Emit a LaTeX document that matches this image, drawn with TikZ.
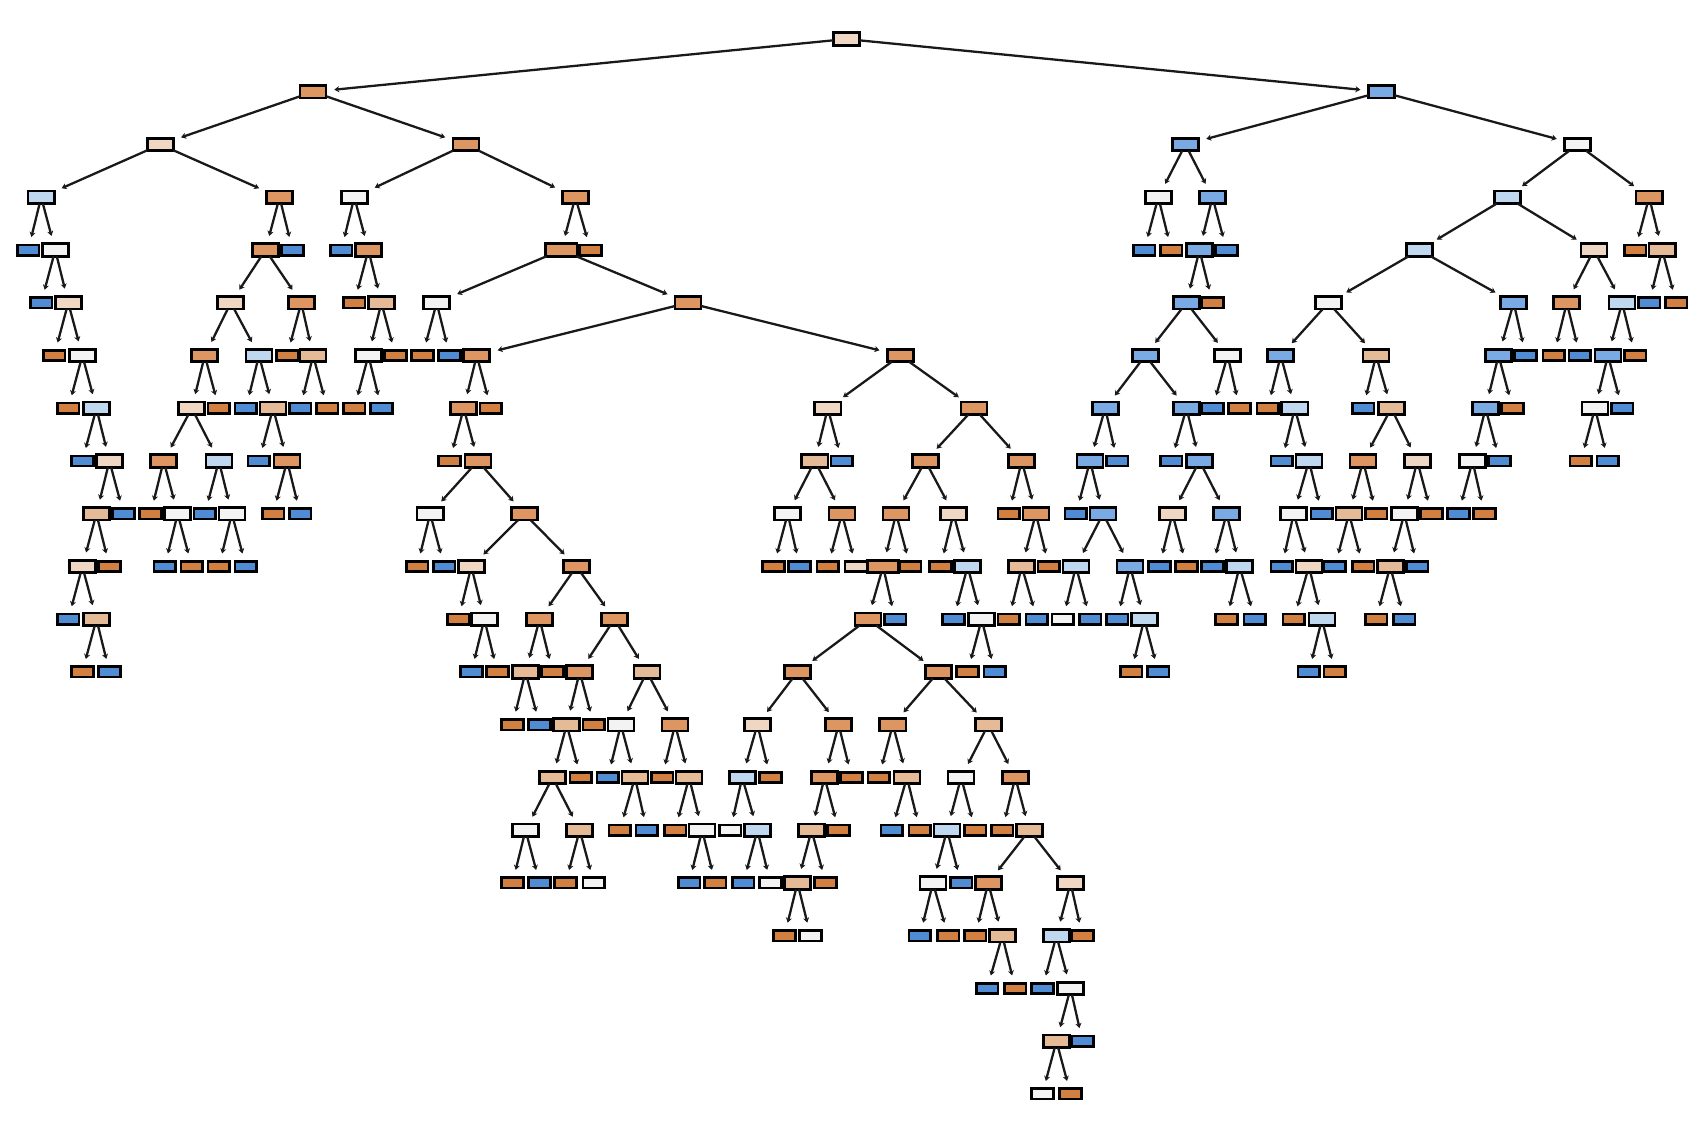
\documentclass[tikz,border=0pt]{standalone}
\usepackage{tikz}
\usetikzlibrary{arrows.meta}
\definecolor{orS}{RGB}{210,128,66}
\definecolor{orM}{RGB}{221,150,98}
\definecolor{orT}{RGB}{229,186,150}
\definecolor{orP}{RGB}{239,215,196}
\definecolor{grW}{RGB}{243,243,243}
\definecolor{blP}{RGB}{192,215,240}
\definecolor{blM}{RGB}{122,170,228}
\definecolor{blS}{RGB}{80,140,212}

\begin{document}
\begin{tikzpicture}[x=0.01cm,y=-0.4865cm,
  nd/.style={draw=black,line width=0.7pt,inner sep=0pt,outer sep=0pt,minimum width=0.24cm,minimum height=0.115cm},
  lf/.style={nd,minimum width=0.2cm,minimum height=0.095cm},
  wd/.style={minimum width=0.29cm},
  oS/.style={fill=orS},
  oM/.style={fill=orM},
  oT/.style={fill=orT},
  oP/.style={fill=orP},
  wh/.style={fill=grW},
  bP/.style={fill=blP},
  bM/.style={fill=blM},
  bS/.style={fill=blS},
  link/.style={line width=0.6pt,black!90,shorten >=0.075cm,-{Stealth[length=1.3pt,width=1.6pt]}}]
\useasboundingbox (0,-0.74) rectangle (1568,20.555);
% tree nodes, preorder
\node[nd,oP] (n0) at (781,0) {};
\node[nd,oM] (n1) at (289,1) {};
\node[nd,oP] (n2) at (148,2) {};
\node[nd,bP] (n3) at (38,3) {};
\node[lf,bS] (n4) at (26,4) {};
\node[nd,wh] (n5) at (51,4) {};
\node[lf,bS] (n6) at (38,5) {};
\node[nd,oP] (n7) at (63,5) {};
\node[lf,oS] (n8) at (50,6) {};
\node[nd,wh] (n9) at (76,6) {};
\node[lf,oS] (n10) at (63,7) {};
\node[nd,bP] (n11) at (89,7) {};
\node[lf,bS] (n12) at (76,8) {};
\node[nd,oP] (n13) at (101,8) {};
\node[nd,oT] (n14) at (89,9) {};
\node[nd,oP] (n15) at (76,10) {};
\node[lf,bS] (n16) at (63,11) {};
\node[nd,oT] (n17) at (89,11) {};
\node[lf,oS] (n18) at (76,12) {};
\node[lf,bS] (n19) at (101,12) {};
\node[lf,oS] (n20) at (101,10) {};
\node[lf,bS] (n21) at (114,9) {};
\node[nd,oM] (n22) at (258,3) {};
\node[nd,oM] (n23) at (245,4) {};
\node[nd,oP] (n24) at (213,5) {};
\node[nd,oM] (n25) at (189,6) {};
\node[nd,oP] (n26) at (177,7) {};
\node[nd,oM] (n27) at (151,8) {};
\node[lf,oS] (n28) at (139,9) {};
\node[nd,wh] (n29) at (164,9) {};
\node[lf,bS] (n30) at (152,10) {};
\node[lf,oS] (n31) at (177,10) {};
\node[nd,bP] (n32) at (202,8) {};
\node[lf,bS] (n33) at (189,9) {};
\node[nd,wh] (n34) at (214,9) {};
\node[lf,oS] (n35) at (202,10) {};
\node[lf,bS] (n36) at (227,10) {};
\node[lf,oS] (n37) at (202,7) {};
\node[nd,bP] (n38) at (239,6) {};
\node[lf,bS] (n39) at (227,7) {};
\node[nd,oT] (n40) at (252,7) {};
\node[lf,bS] (n41) at (239,8) {};
\node[nd,oM] (n42) at (265,8) {};
\node[lf,oS] (n43) at (252,9) {};
\node[lf,bS] (n44) at (277,9) {};
\node[nd,oM] (n45) at (278,5) {};
\node[lf,oS] (n46) at (265,6) {};
\node[nd,oT] (n47) at (289,6) {};
\node[lf,bS] (n48) at (277,7) {};
\node[lf,oS] (n49) at (302,7) {};
\node[lf,bS] (n50) at (270,4) {};
\node[nd,oM] (n51) at (430,2) {};
\node[nd,wh] (n52) at (327,3) {};
\node[lf,bS] (n53) at (315,4) {};
\node[nd,oM] (n54) at (340,4) {};
\node[lf,oS] (n55) at (327,5) {};
\node[nd,oT] (n56) at (352,5) {};
\node[nd,wh] (n57) at (340,6) {};
\node[lf,oS] (n58) at (327,7) {};
\node[lf,bS] (n59) at (352,7) {};
\node[lf,oS] (n60) at (365,6) {};
\node[nd,oM] (n61) at (531,3) {};
\node[nd,wd,oM] (n62) at (518,4) {};
\node[nd,wh] (n63) at (403,5) {};
\node[lf,oS] (n64) at (390,6) {};
\node[lf,bS] (n65) at (415,6) {};
\node[nd,oM] (n66) at (635,5) {};
\node[nd,oM] (n67) at (440,6) {};
\node[nd,oM] (n68) at (428,7) {};
\node[lf,oS] (n69) at (415,8) {};
\node[nd,oM] (n70) at (441,8) {};
\node[nd,wh] (n71) at (397,9) {};
\node[lf,oS] (n72) at (385,10) {};
\node[lf,bS] (n73) at (410,10) {};
\node[nd,oM] (n74) at (484,9) {};
\node[nd,oP] (n75) at (435,10) {};
\node[lf,oS] (n76) at (423,11) {};
\node[nd,wh] (n77) at (447,11) {};
\node[lf,bS] (n78) at (435,12) {};
\node[lf,oS] (n79) at (459,12) {};
\node[nd,oM] (n80) at (532,10) {};
\node[nd,oM] (n81) at (498,11) {};
\node[nd,oT] (n82) at (485,12) {};
\node[lf,oS] (n83) at (473,13) {};
\node[lf,bS] (n84) at (498,13) {};
\node[lf,oS] (n85) at (510,12) {};
\node[nd,oM] (n86) at (567,11) {};
\node[nd,oM] (n87) at (535,12) {};
\node[nd,oT] (n88) at (523,13) {};
\node[nd,oT] (n89) at (510,14) {};
\node[nd,wh] (n90) at (485,15) {};
\node[lf,oS] (n91) at (473,16) {};
\node[lf,bS] (n92) at (498,16) {};
\node[nd,oT] (n93) at (535,15) {};
\node[lf,oS] (n94) at (522,16) {};
\node[lf,wh] (n95) at (548,16) {};
\node[lf,oS] (n96) at (536,14) {};
\node[lf,oS] (n97) at (548,13) {};
\node[nd,oT] (n98) at (597,12) {};
\node[nd,wh] (n99) at (573,13) {};
\node[lf,bS] (n100) at (561,14) {};
\node[nd,oT] (n101) at (586,14) {};
\node[lf,oS] (n102) at (572,15) {};
\node[lf,bS] (n103) at (597,15) {};
\node[nd,oM] (n104) at (623,13) {};
\node[lf,oS] (n105) at (611,14) {};
\node[nd,oT] (n106) at (636,14) {};
\node[lf,oS] (n107) at (623,15) {};
\node[nd,wh] (n108) at (648,15) {};
\node[lf,bS] (n109) at (636,16) {};
\node[lf,oS] (n110) at (660,16) {};
\node[lf,oS] (n111) at (453,7) {};
\node[nd,oM] (n112) at (831,6) {};
\node[nd,oP] (n113) at (764,7) {};
\node[nd,oT] (n114) at (752,8) {};
\node[nd,wh] (n115) at (727,9) {};
\node[lf,oS] (n116) at (714,10) {};
\node[lf,bS] (n117) at (738,10) {};
\node[nd,oM] (n118) at (777,9) {};
\node[lf,oS] (n119) at (764,10) {};
\node[lf,oP] (n120) at (790,10) {};
\node[lf,bS] (n121) at (777,8) {};
\node[nd,oM] (n122) at (899,7) {};
\node[nd,oM] (n123) at (854,8) {};
\node[nd,oM] (n124) at (827,9) {};
\node[nd,wd,oM] (n125) at (815,10) {};
\node[nd,oM] (n126) at (801,11) {};
\node[nd,oM] (n127) at (736,12) {};
\node[nd,oP] (n128) at (699,13) {};
\node[nd,bP] (n129) at (685,14) {};
\node[lf,wh] (n130) at (674,15) {};
\node[nd,bP] (n131) at (699,15) {};
\node[lf,bS] (n132) at (686,16) {};
\node[lf,wh] (n133) at (711,16) {};
\node[lf,oS] (n134) at (711,14) {};
\node[nd,oM] (n135) at (774,13) {};
\node[nd,oM] (n136) at (761,14) {};
\node[nd,oT] (n137) at (749,15) {};
\node[nd,oT] (n138) at (736,16) {};
\node[lf,oS] (n139) at (724,17) {};
\node[lf,wh] (n140) at (748,17) {};
\node[lf,oS] (n141) at (762,16) {};
\node[lf,oS] (n142) at (774,15) {};
\node[lf,oS] (n143) at (786,14) {};
\node[nd,oM] (n144) at (866,12) {};
\node[nd,oM] (n145) at (824,13) {};
\node[lf,oS] (n146) at (811,14) {};
\node[nd,oT] (n147) at (837,14) {};
\node[lf,bS] (n148) at (823,15) {};
\node[lf,oS] (n149) at (849,15) {};
\node[nd,oT] (n150) at (912,13) {};
\node[nd,wh] (n151) at (887,14) {};
\node[nd,bP] (n152) at (874,15) {};
\node[nd,wh] (n153) at (861,16) {};
\node[lf,bS] (n154) at (849,17) {};
\node[lf,oS] (n155) at (875,17) {};
\node[lf,bS] (n156) at (887,16) {};
\node[lf,oS] (n157) at (900,15) {};
\node[nd,oM] (n158) at (937,14) {};
\node[lf,oS] (n159) at (925,15) {};
\node[nd,oT] (n160) at (950,15) {};
\node[nd,oM] (n161) at (912,16) {};
\node[lf,oS] (n162) at (900,17) {};
\node[nd,oT] (n163) at (925,17) {};
\node[lf,bS] (n164) at (911,18) {};
\node[lf,oS] (n165) at (937,18) {};
\node[nd,oP] (n166) at (988,16) {};
\node[nd,bP] (n167) at (975,17) {};
\node[lf,bS] (n168) at (962,18) {};
\node[nd,wh] (n169) at (988,18) {};
\node[nd,oT] (n170) at (975,19) {};
\node[lf,wh] (n171) at (962,20) {};
\node[lf,oS] (n172) at (988,20) {};
\node[lf,bS] (n173) at (999,19) {};
\node[lf,oS] (n174) at (999,17) {};
\node[lf,bS] (n175) at (826,11) {};
\node[lf,oS] (n176) at (840,10) {};
\node[nd,oP] (n177) at (880,9) {};
\node[lf,oS] (n178) at (868,10) {};
\node[nd,bP] (n179) at (893,10) {};
\node[lf,bS] (n180) at (880,11) {};
\node[nd,wh] (n181) at (906,11) {};
\node[lf,oS] (n182) at (893,12) {};
\node[lf,bS] (n183) at (918,12) {};
\node[nd,oM] (n184) at (943,8) {};
\node[lf,oS] (n185) at (931,9) {};
\node[nd,oM] (n186) at (956,9) {};
\node[nd,oT] (n187) at (943,10) {};
\node[lf,oS] (n188) at (931,11) {};
\node[lf,bS] (n189) at (957,11) {};
\node[lf,oS] (n190) at (968,10) {};
\node[lf,oS] (n191) at (545,4) {};
\node[nd,bM] (n192) at (1275,1) {};
\node[nd,bM] (n193) at (1094,2) {};
\node[nd,wh] (n194) at (1069,3) {};
\node[lf,bS] (n195) at (1056,4) {};
\node[lf,oS] (n196) at (1081,4) {};
\node[nd,bM] (n197) at (1119,3) {};
\node[nd,bM] (n198) at (1107,4) {};
\node[nd,bM] (n199) at (1095,5) {};
\node[nd,bM] (n200) at (1057,6) {};
\node[nd,bM] (n201) at (1020,7) {};
\node[nd,bM] (n202) at (1006,8) {};
\node[lf,bS] (n203) at (993,9) {};
\node[nd,bM] (n204) at (1018,9) {};
\node[nd,bP] (n205) at (993,10) {};
\node[lf,wh] (n206) at (981,11) {};
\node[lf,bS] (n207) at (1006,11) {};
\node[nd,bM] (n208) at (1043,10) {};
\node[lf,bS] (n209) at (1031,11) {};
\node[nd,bP] (n210) at (1056,11) {};
\node[lf,oS] (n211) at (1044,12) {};
\node[lf,bS] (n212) at (1069,12) {};
\node[lf,bS] (n213) at (1031,8) {};
\node[nd,bM] (n214) at (1095,7) {};
\node[lf,bS] (n215) at (1081,8) {};
\node[nd,bM] (n216) at (1107,8) {};
\node[nd,oP] (n217) at (1082,9) {};
\node[lf,bS] (n218) at (1070,10) {};
\node[lf,oS] (n219) at (1095,10) {};
\node[nd,bM] (n220) at (1132,9) {};
\node[lf,bS] (n221) at (1119,10) {};
\node[nd,bP] (n222) at (1144,10) {};
\node[lf,oS] (n223) at (1132,11) {};
\node[lf,bS] (n224) at (1158,11) {};
\node[nd,wh] (n225) at (1133,6) {};
\node[lf,bS] (n226) at (1119,7) {};
\node[lf,oS] (n227) at (1144,7) {};
\node[lf,oS] (n228) at (1119,5) {};
\node[lf,bS] (n229) at (1132,4) {};
\node[nd,wh] (n230) at (1456,2) {};
\node[nd,bP] (n231) at (1391,3) {};
\node[nd,bP] (n232) at (1310,4) {};
\node[nd,wh] (n233) at (1226,5) {};
\node[nd,bM] (n234) at (1182,6) {};
\node[lf,oS] (n235) at (1170,7) {};
\node[nd,bP] (n236) at (1195,7) {};
\node[lf,bS] (n237) at (1183,8) {};
\node[nd,bP] (n238) at (1208,8) {};
\node[nd,wh] (n239) at (1194,9) {};
\node[lf,bS] (n240) at (1183,10) {};
\node[nd,oP] (n241) at (1208,10) {};
\node[lf,oS] (n242) at (1194,11) {};
\node[nd,bP] (n243) at (1220,11) {};
\node[lf,bS] (n244) at (1208,12) {};
\node[lf,oS] (n245) at (1232,12) {};
\node[lf,bS] (n246) at (1220,9) {};
\node[nd,oT] (n247) at (1270,6) {};
\node[lf,bS] (n248) at (1258,7) {};
\node[nd,oT] (n249) at (1284,7) {};
\node[nd,oM] (n250) at (1258,8) {};
\node[nd,oT] (n251) at (1245,9) {};
\node[lf,bS] (n252) at (1232,10) {};
\node[lf,oS] (n253) at (1258,10) {};
\node[lf,oS] (n254) at (1270,9) {};
\node[nd,oP] (n255) at (1308,8) {};
\node[nd,wh] (n256) at (1296,9) {};
\node[nd,oT] (n257) at (1283,10) {};
\node[lf,oS] (n258) at (1270,11) {};
\node[lf,bS] (n259) at (1296,11) {};
\node[lf,bS] (n260) at (1308,10) {};
\node[lf,oS] (n261) at (1321,9) {};
\node[nd,bM] (n262) at (1397,5) {};
\node[nd,bM] (n263) at (1383,6) {};
\node[nd,bM] (n264) at (1371,7) {};
\node[nd,wh] (n265) at (1359,8) {};
\node[lf,bS] (n266) at (1346,9) {};
\node[lf,oS] (n267) at (1370,9) {};
\node[lf,bS] (n268) at (1384,8) {};
\node[lf,oS] (n269) at (1396,7) {};
\node[lf,bS] (n270) at (1408,6) {};
\node[nd,oP] (n271) at (1471,4) {};
\node[nd,oM] (n272) at (1446,5) {};
\node[lf,oS] (n273) at (1434,6) {};
\node[lf,bS] (n274) at (1458,6) {};
\node[nd,bP] (n275) at (1497,5) {};
\node[nd,bM] (n276) at (1484,6) {};
\node[nd,wh] (n277) at (1472,7) {};
\node[lf,oS] (n278) at (1459,8) {};
\node[lf,bS] (n279) at (1484,8) {};
\node[lf,bS] (n280) at (1497,7) {};
\node[lf,oS] (n281) at (1509,6) {};
\node[nd,oM] (n282) at (1522,3) {};
\node[lf,oS] (n283) at (1509,4) {};
\node[nd,oT] (n284) at (1534,4) {};
\node[lf,bS] (n285) at (1522,5) {};
\node[lf,oS] (n286) at (1547,5) {};
% links, parent to both children
\draw[link] (n0) edge (n1) edge (n192);
\draw[link] (n1) edge (n2) edge (n51);
\draw[link] (n2) edge (n3) edge (n22);
\draw[link] (n3) edge (n4) edge (n5);
\draw[link] (n5) edge (n6) edge (n7);
\draw[link] (n7) edge (n8) edge (n9);
\draw[link] (n9) edge (n10) edge (n11);
\draw[link] (n11) edge (n12) edge (n13);
\draw[link] (n13) edge (n14) edge (n21);
\draw[link] (n14) edge (n15) edge (n20);
\draw[link] (n15) edge (n16) edge (n17);
\draw[link] (n17) edge (n18) edge (n19);
\draw[link] (n22) edge (n23) edge (n50);
\draw[link] (n23) edge (n24) edge (n45);
\draw[link] (n24) edge (n25) edge (n38);
\draw[link] (n25) edge (n26) edge (n37);
\draw[link] (n26) edge (n27) edge (n32);
\draw[link] (n27) edge (n28) edge (n29);
\draw[link] (n29) edge (n30) edge (n31);
\draw[link] (n32) edge (n33) edge (n34);
\draw[link] (n34) edge (n35) edge (n36);
\draw[link] (n38) edge (n39) edge (n40);
\draw[link] (n40) edge (n41) edge (n42);
\draw[link] (n42) edge (n43) edge (n44);
\draw[link] (n45) edge (n46) edge (n47);
\draw[link] (n47) edge (n48) edge (n49);
\draw[link] (n51) edge (n52) edge (n61);
\draw[link] (n52) edge (n53) edge (n54);
\draw[link] (n54) edge (n55) edge (n56);
\draw[link] (n56) edge (n57) edge (n60);
\draw[link] (n57) edge (n58) edge (n59);
\draw[link] (n61) edge (n62) edge (n191);
\draw[link] (n62) edge (n63) edge (n66);
\draw[link] (n63) edge (n64) edge (n65);
\draw[link] (n66) edge (n67) edge (n112);
\draw[link] (n67) edge (n68) edge (n111);
\draw[link] (n68) edge (n69) edge (n70);
\draw[link] (n70) edge (n71) edge (n74);
\draw[link] (n71) edge (n72) edge (n73);
\draw[link] (n74) edge (n75) edge (n80);
\draw[link] (n75) edge (n76) edge (n77);
\draw[link] (n77) edge (n78) edge (n79);
\draw[link] (n80) edge (n81) edge (n86);
\draw[link] (n81) edge (n82) edge (n85);
\draw[link] (n82) edge (n83) edge (n84);
\draw[link] (n86) edge (n87) edge (n98);
\draw[link] (n87) edge (n88) edge (n97);
\draw[link] (n88) edge (n89) edge (n96);
\draw[link] (n89) edge (n90) edge (n93);
\draw[link] (n90) edge (n91) edge (n92);
\draw[link] (n93) edge (n94) edge (n95);
\draw[link] (n98) edge (n99) edge (n104);
\draw[link] (n99) edge (n100) edge (n101);
\draw[link] (n101) edge (n102) edge (n103);
\draw[link] (n104) edge (n105) edge (n106);
\draw[link] (n106) edge (n107) edge (n108);
\draw[link] (n108) edge (n109) edge (n110);
\draw[link] (n112) edge (n113) edge (n122);
\draw[link] (n113) edge (n114) edge (n121);
\draw[link] (n114) edge (n115) edge (n118);
\draw[link] (n115) edge (n116) edge (n117);
\draw[link] (n118) edge (n119) edge (n120);
\draw[link] (n122) edge (n123) edge (n184);
\draw[link] (n123) edge (n124) edge (n177);
\draw[link] (n124) edge (n125) edge (n176);
\draw[link] (n125) edge (n126) edge (n175);
\draw[link] (n126) edge (n127) edge (n144);
\draw[link] (n127) edge (n128) edge (n135);
\draw[link] (n128) edge (n129) edge (n134);
\draw[link] (n129) edge (n130) edge (n131);
\draw[link] (n131) edge (n132) edge (n133);
\draw[link] (n135) edge (n136) edge (n143);
\draw[link] (n136) edge (n137) edge (n142);
\draw[link] (n137) edge (n138) edge (n141);
\draw[link] (n138) edge (n139) edge (n140);
\draw[link] (n144) edge (n145) edge (n150);
\draw[link] (n145) edge (n146) edge (n147);
\draw[link] (n147) edge (n148) edge (n149);
\draw[link] (n150) edge (n151) edge (n158);
\draw[link] (n151) edge (n152) edge (n157);
\draw[link] (n152) edge (n153) edge (n156);
\draw[link] (n153) edge (n154) edge (n155);
\draw[link] (n158) edge (n159) edge (n160);
\draw[link] (n160) edge (n161) edge (n166);
\draw[link] (n161) edge (n162) edge (n163);
\draw[link] (n163) edge (n164) edge (n165);
\draw[link] (n166) edge (n167) edge (n174);
\draw[link] (n167) edge (n168) edge (n169);
\draw[link] (n169) edge (n170) edge (n173);
\draw[link] (n170) edge (n171) edge (n172);
\draw[link] (n177) edge (n178) edge (n179);
\draw[link] (n179) edge (n180) edge (n181);
\draw[link] (n181) edge (n182) edge (n183);
\draw[link] (n184) edge (n185) edge (n186);
\draw[link] (n186) edge (n187) edge (n190);
\draw[link] (n187) edge (n188) edge (n189);
\draw[link] (n192) edge (n193) edge (n230);
\draw[link] (n193) edge (n194) edge (n197);
\draw[link] (n194) edge (n195) edge (n196);
\draw[link] (n197) edge (n198) edge (n229);
\draw[link] (n198) edge (n199) edge (n228);
\draw[link] (n199) edge (n200) edge (n225);
\draw[link] (n200) edge (n201) edge (n214);
\draw[link] (n201) edge (n202) edge (n213);
\draw[link] (n202) edge (n203) edge (n204);
\draw[link] (n204) edge (n205) edge (n208);
\draw[link] (n205) edge (n206) edge (n207);
\draw[link] (n208) edge (n209) edge (n210);
\draw[link] (n210) edge (n211) edge (n212);
\draw[link] (n214) edge (n215) edge (n216);
\draw[link] (n216) edge (n217) edge (n220);
\draw[link] (n217) edge (n218) edge (n219);
\draw[link] (n220) edge (n221) edge (n222);
\draw[link] (n222) edge (n223) edge (n224);
\draw[link] (n225) edge (n226) edge (n227);
\draw[link] (n230) edge (n231) edge (n282);
\draw[link] (n231) edge (n232) edge (n271);
\draw[link] (n232) edge (n233) edge (n262);
\draw[link] (n233) edge (n234) edge (n247);
\draw[link] (n234) edge (n235) edge (n236);
\draw[link] (n236) edge (n237) edge (n238);
\draw[link] (n238) edge (n239) edge (n246);
\draw[link] (n239) edge (n240) edge (n241);
\draw[link] (n241) edge (n242) edge (n243);
\draw[link] (n243) edge (n244) edge (n245);
\draw[link] (n247) edge (n248) edge (n249);
\draw[link] (n249) edge (n250) edge (n255);
\draw[link] (n250) edge (n251) edge (n254);
\draw[link] (n251) edge (n252) edge (n253);
\draw[link] (n255) edge (n256) edge (n261);
\draw[link] (n256) edge (n257) edge (n260);
\draw[link] (n257) edge (n258) edge (n259);
\draw[link] (n262) edge (n263) edge (n270);
\draw[link] (n263) edge (n264) edge (n269);
\draw[link] (n264) edge (n265) edge (n268);
\draw[link] (n265) edge (n266) edge (n267);
\draw[link] (n271) edge (n272) edge (n275);
\draw[link] (n272) edge (n273) edge (n274);
\draw[link] (n275) edge (n276) edge (n281);
\draw[link] (n276) edge (n277) edge (n280);
\draw[link] (n277) edge (n278) edge (n279);
\draw[link] (n282) edge (n283) edge (n284);
\draw[link] (n284) edge (n285) edge (n286);
\end{tikzpicture}
\end{document}
